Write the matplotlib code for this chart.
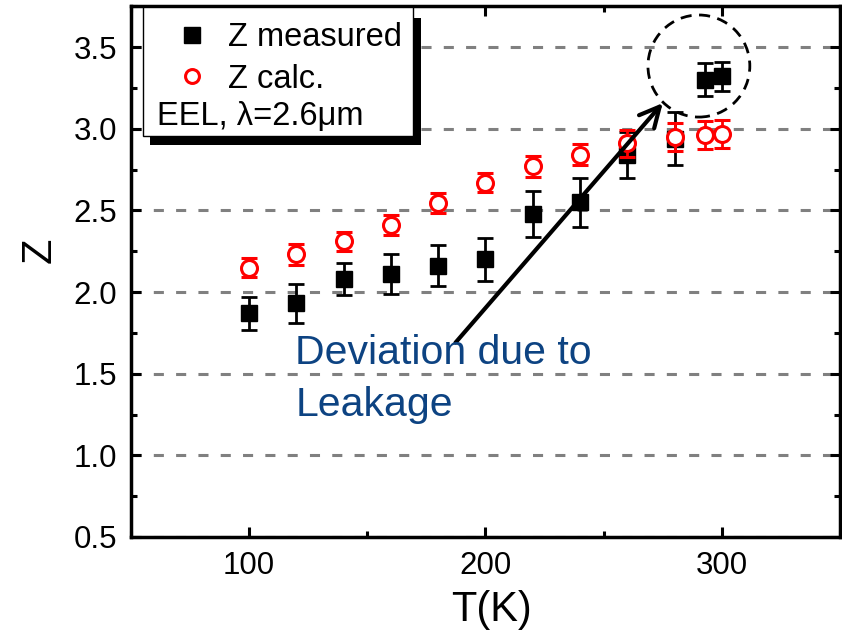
import numpy as np
import matplotlib.pyplot as plt
from matplotlib.lines import Line2D
from matplotlib.patches import Ellipse, Rectangle
from matplotlib.ticker import MultipleLocator, FormatStrFormatter

plt.rcParams['font.family'] = ['Liberation Sans', 'DejaVu Sans']

# data
T_meas = [100, 120, 140, 160, 180, 200, 220, 240, 260, 280, 293, 300]
Z_meas = [1.87, 1.93, 2.08, 2.11, 2.16, 2.20, 2.48, 2.55, 2.84, 2.94, 3.30, 3.32]
err_meas = [0.10, 0.12, 0.10, 0.12, 0.125, 0.13, 0.14, 0.15, 0.14, 0.16, 0.10, 0.09]

T_calc = [100, 120, 140, 160, 180, 200, 220, 240, 260, 280, 293, 300]
Z_calc = [2.15, 2.23, 2.31, 2.41, 2.545, 2.67, 2.77, 2.84, 2.91, 2.95, 2.96, 2.97]
err_calc = [0.06, 0.065, 0.06, 0.06, 0.06, 0.06, 0.065, 0.065, 0.085, 0.085, 0.085, 0.085]

y_ticks = [0.5, 1.0, 1.5, 2.0, 2.5, 3.0, 3.5]
x_ticks = [100, 200, 300]

fig = plt.figure(figsize=(8.42, 6.33), dpi=100)
ax = fig.add_axes([0.1556, 0.1517, 0.842, 0.8384])

# measured (black squares), then calc (red open circles) on top
ax.errorbar(T_meas, Z_meas, yerr=err_meas, fmt='s', color='black', ms=11,
            ecolor='black', elinewidth=2, capsize=5.5, capthick=2, zorder=3)
ax.errorbar(T_calc, Z_calc, yerr=err_calc, fmt='o', color='red', ms=11.5,
            mfc='white', mec='red', mew=2.2, ecolor='red', elinewidth=2,
            capsize=6, capthick=2, zorder=4)

# axes
ax.set_xlim(50, 350)
ax.set_ylim(0.5, 3.75)
ax.set_xticks(x_ticks)
ax.set_yticks(y_ticks)
ax.xaxis.set_minor_locator(MultipleLocator(50))
ax.yaxis.set_minor_locator(MultipleLocator(0.25))
ax.yaxis.set_major_formatter(FormatStrFormatter('%.1f'))
ax.tick_params(which='both', direction='in', top=True, right=True, width=2.2)
ax.tick_params(which='major', length=7, labelsize=22.5, pad=10)
ax.tick_params(which='minor', length=4)
for s in ax.spines.values():
    s.set_linewidth(2.5)

ax.grid(axis='y', color='#808080', lw=2.2, linestyle=(0, (3.3, 4)))
ax.set_axisbelow(True)

ax.set_xlabel('T(K)', fontsize=30)
ax.set_ylabel('Z', fontsize=30)
ax.xaxis.set_label_coords(0.509, -0.10)
ax.yaxis.set_label_coords(-0.10, 0.54)

# legend box with black shadow
ax.add_patch(Rectangle((0.0268, 0.7387), 0.382, 0.24, transform=ax.transAxes,
                       facecolor='black', edgecolor='none', zorder=5, clip_on=False))
ax.add_patch(Rectangle((0.0169, 0.7556), 0.3808, 0.2431, transform=ax.transAxes,
                       facecolor='white', edgecolor='black', lw=1, zorder=6, clip_on=False))
handles = [Line2D([], [], marker='s', ls='none', color='black', ms=11),
           Line2D([], [], marker='o', ls='none', mfc='white', mec='red', mew=2.2, ms=10)]
leg = ax.legend(handles, ['Z measured', 'Z calc.'], loc='upper left',
                bbox_to_anchor=(0.0635, 0.970), frameon=False, fontsize=23.5,
                handlelength=1.0, handletextpad=0.6, labelspacing=0.32,
                borderpad=0, borderaxespad=0)
leg.set_zorder(7)
ax.text(0.0367, 0.792, 'EEL, λ=2.6μm', transform=ax.transAxes, fontsize=23.5,
        va='center', ha='left', zorder=8)

# annotation
ax.add_patch(Ellipse((290.3, 3.384), 43.1, 0.625, fill=False, edgecolor='black',
                     lw=2, linestyle=(0, (4, 2.7)), zorder=5))
ax.annotate('', xy=(275, 3.157), xytext=(187.3, 1.69),
            arrowprops=dict(arrowstyle='->', lw=3, color='black',
                            mutation_scale=36, shrinkA=0, shrinkB=0), zorder=5)
ax.text(119.5, 1.241, 'Deviation due to\nLeakage', fontsize=29.5, color='#0d4382',
        ha='left', va='baseline', linespacing=1.45, zorder=6)

fig.savefig('out.png', dpi=100)
